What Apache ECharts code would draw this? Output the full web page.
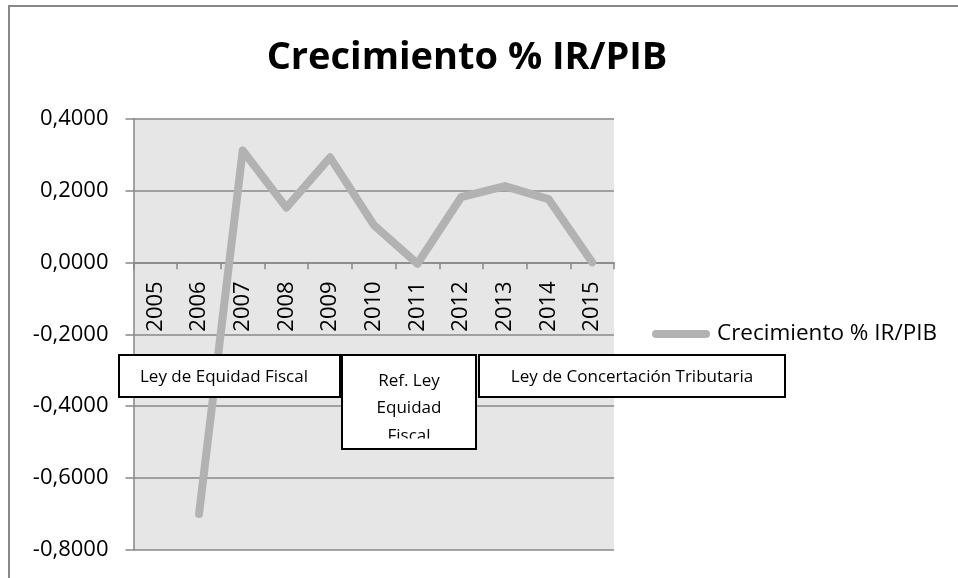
<!DOCTYPE html>
<html>
<head>
<meta charset="utf-8">
<script src="https://cdn.jsdelivr.net/npm/echarts@6/dist/echarts.min.js"></script>
<style>
html,body{margin:0;padding:0;background:#fff;}
#chart{width:958px;height:578px;}
</style>
</head>
<body>
<div id="chart"></div>
<script>
var titleText = 'Crecimiento % IR/PIB';
var seriesName = 'Crecimiento % IR/PIB';
var categories = ['2005','2006','2007','2008','2009','2010','2011','2012','2013','2014','2015'];
var values = [null, -0.70, 0.311, 0.152, 0.292, 0.104, -0.004, 0.181, 0.212, 0.176, 0.0];
var yMin = -0.8, yMax = 0.4, yStep = 0.2;
var box1Lines = ['Ley de Equidad Fiscal'];
var box2Lines = ['Ref. Ley', 'Equidad', 'Fiscal'];
var box3Lines = ['Ley de Concertación Tributaria'];

var FONT = '"Open Sans", "Noto Sans", sans-serif';
var chart = echarts.init(document.getElementById('chart'), null, {renderer: 'canvas'});

var gridTop = 118.5, gridBottom = 28, chartH = 578;
var plotH = chartH - gridTop - gridBottom;
var zeroOffset = -plotH * (0 - yMin) / (yMax - yMin);

function boxText(lines, cx, cy0, lh, align) {
  return lines.map(function (t, i) {
    return {
      type: 'text', x: cx, y: cy0 + i * lh, z: 101,
      style: {text: t, fill: '#000', font: '17px ' + FONT, textAlign: align || 'center', textVerticalAlign: 'middle'}
    };
  });
}

var graphics = [
  {type: 'rect', z: 0, silent: true, shape: {x: 9, y: 6, width: 1000, height: 1000},
   style: {fill: 'none', stroke: '#888888', lineWidth: 2}},
  {type: 'text', x: 467, y: 58, z: 101,
   style: {text: titleText, fill: '#000', font: 'bold 38px ' + FONT, textAlign: 'center', textVerticalAlign: 'middle'}},
  {type: 'rect', z: 100, shape: {x: 119, y: 355, width: 221, height: 42}, style: {fill: '#fff', stroke: '#000', lineWidth: 2}},
  {type: 'rect', z: 100, shape: {x: 342, y: 355, width: 134, height: 94}, style: {fill: '#fff', stroke: '#000', lineWidth: 2}},
  {type: 'rect', z: 100, shape: {x: 479, y: 355, width: 306, height: 42}, style: {fill: '#fff', stroke: '#000', lineWidth: 2}}
];
graphics = graphics
  .concat(boxText(box1Lines, 140, 377, 27, 'left'))
  .concat(boxText(box2Lines, 409, 381, 27.5))
  .concat(boxText(box3Lines, 632, 377, 27))
  .concat([
    {type: 'rect', z: 102, shape: {x: 344, y: 438.5, width: 130, height: 10}, style: {fill: '#fff'}},
    {type: 'rect', z: 103, shape: {x: 342, y: 355, width: 134, height: 94}, style: {fill: 'none', stroke: '#000', lineWidth: 2}}
  ]);

var option = {
  animation: false,
  backgroundColor: '#ffffff',
  textStyle: {fontFamily: FONT},
  grid: {left: 133.5, right: 344, top: gridTop, bottom: gridBottom, show: true, backgroundColor: '#e6e6e6',
         borderWidth: 0, containLabel: false, outerBoundsMode: 'none'},
  legend: {
    show: true, left: 652, top: 322, padding: 0, itemGap: 0,
    itemWidth: 58, itemHeight: 8,
    icon: 'path://M4,0 H54 A4,4 0 0 1 54,8 H4 A4,4 0 0 1 4,0 Z',
    textStyle: {fontSize: 22.5, color: '#000', fontFamily: FONT, lineHeight: 24, padding: [0, 0, 0, 2]},
    data: [{name: seriesName, itemStyle: {color: '#b2b2b2'}}]
  },
  xAxis: {
    type: 'category', data: categories, boundaryGap: true, position: 'bottom',
    offset: zeroOffset,
    axisLine: {show: true, onZero: false, lineStyle: {color: '#888888', width: 1.5}},
    axisTick: {show: true, length: 7, lineStyle: {color: '#888888', width: 1.5}},
    axisLabel: {rotate: 90, margin: 19, fontSize: 22, color: '#000', fontFamily: FONT, interval: 0},
    splitLine: {show: false}
  },
  yAxis: {
    type: 'value', min: yMin, max: yMax, interval: yStep,
    axisLine: {show: true, lineStyle: {color: '#888888', width: 1.5}},
    axisTick: {show: true, length: 8, lineStyle: {color: '#888888', width: 1.5}},
    axisLabel: {margin: 25, fontSize: 22, color: '#000', fontFamily: FONT,
      formatter: function (v) { return (Math.round(v * 10000) / 10000).toFixed(4).replace('.', ','); }},
    splitLine: {show: true, lineStyle: {color: '#888888', width: 1.5}}
  },
  series: [{
    name: seriesName, type: 'line', data: values, connectNulls: false,
    symbol: 'none', showSymbol: false, z: 5,
    lineStyle: {color: '#b2b2b2', width: 8, cap: 'round', join: 'round'},
    itemStyle: {color: '#b2b2b2'}
  }],
  graphic: {elements: graphics}
};
chart.setOption(option);
</script>
</body>
</html>
